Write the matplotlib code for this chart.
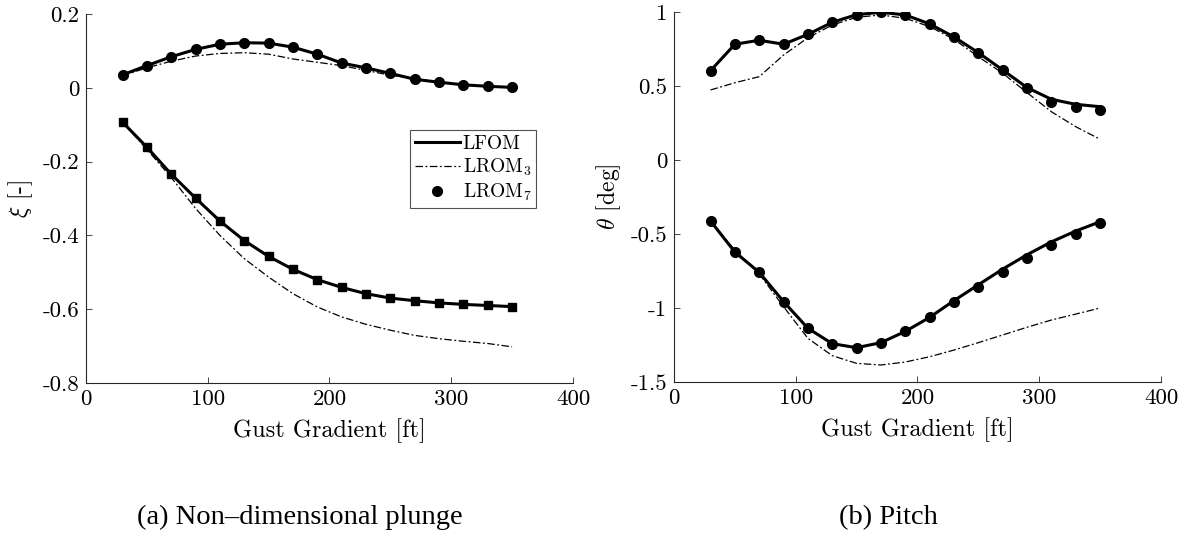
import matplotlib
matplotlib.use("Agg")
import matplotlib.pyplot as plt

plt.rcParams['font.family'] = 'cmr10'
plt.rcParams['mathtext.fontset'] = 'cm'
plt.rcParams['axes.unicode_minus'] = False

# gust gradient lengths [ft]
gust = [30, 50, 70, 90, 110, 130, 150, 170, 190, 210, 230, 250, 270, 290, 310, 330, 350]

# non-dimensional plunge, upper and lower envelopes
xi_up_lfom = [0.035, 0.060, 0.084, 0.104, 0.118, 0.122, 0.121, 0.110, 0.091, 0.067,
              0.054, 0.039, 0.023, 0.015, 0.008, 0.004, 0.001]
xi_up_lrom3 = [0.033, 0.054, 0.072, 0.086, 0.093, 0.095, 0.091, 0.078, 0.069, 0.060,
               0.047, 0.034, 0.025, 0.015, 0.008, 0.004, 0.001]
xi_up_lrom7 = [0.035, 0.060, 0.084, 0.104, 0.118, 0.122, 0.121, 0.110, 0.091, 0.067,
               0.054, 0.039, 0.023, 0.015, 0.008, 0.004, 0.001]
xi_lo_lfom = [-0.093, -0.161, -0.234, -0.299, -0.361, -0.414, -0.457, -0.492, -0.520, -0.541,
              -0.558, -0.570, -0.577, -0.583, -0.587, -0.590, -0.593]
xi_lo_lrom3 = [-0.093, -0.167, -0.243, -0.327, -0.400, -0.463, -0.513, -0.558, -0.594, -0.621,
               -0.641, -0.657, -0.671, -0.680, -0.687, -0.693, -0.702]
xi_lo_lrom7 = [-0.093, -0.161, -0.234, -0.299, -0.361, -0.414, -0.457, -0.492, -0.520, -0.541,
               -0.558, -0.570, -0.577, -0.583, -0.587, -0.590, -0.593]

# pitch [deg], upper and lower envelopes
th_up_lfom = [0.603, 0.782, 0.809, 0.782, 0.849, 0.930, 0.982, 0.998, 0.980, 0.919,
              0.831, 0.725, 0.608, 0.489, 0.410, 0.376, 0.360]
th_up_lrom3 = [0.473, 0.522, 0.563, 0.709, 0.826, 0.912, 0.964, 0.980, 0.957, 0.901,
               0.815, 0.698, 0.586, 0.455, 0.326, 0.225, 0.140]
th_up_lrom7 = [0.603, 0.782, 0.809, 0.782, 0.849, 0.930, 0.982, 0.998, 0.980, 0.919,
               0.831, 0.725, 0.608, 0.489, 0.390, 0.360, 0.338]
th_lo_lfom = [-0.412, -0.622, -0.759, -0.957, -1.137, -1.241, -1.268, -1.234, -1.158, -1.063,
              -0.950, -0.843, -0.737, -0.640, -0.553, -0.480, -0.417]
th_lo_lrom3 = [-0.410, -0.610, -0.770, -0.991, -1.205, -1.322, -1.374, -1.385, -1.365, -1.329,
               -1.284, -1.234, -1.182, -1.130, -1.081, -1.041, -1.000]
th_lo_lrom7 = [-0.412, -0.622, -0.759, -0.957, -1.137, -1.241, -1.268, -1.234, -1.158, -1.063,
               -0.959, -0.856, -0.755, -0.660, -0.572, -0.498, -0.428]

x_ticks = [0, 100, 200, 300, 400]
xi_ticks = [-0.8, -0.6, -0.4, -0.2, 0, 0.2]
xi_ticklabels = ['-0.8', '-0.6', '-0.4', '-0.2', '0', '0.2']
th_ticks = [-1.5, -1, -0.5, 0, 0.5, 1]
th_ticklabels = ['-1.5', '-1', '-0.5', '0', '0.5', '1']

axis_grey = '#262626'
dashdot = (0, (6, 2, 1.5, 2))

fig = plt.figure(figsize=(11.86, 5.37), dpi=100)
ax1 = fig.add_axes([0.0725, 0.2868, 0.4106, 0.6872])
ax2 = fig.add_axes([0.5683, 0.2886, 0.4106, 0.6891])


def style_axes(ax, yticks, yticklabels, ylim, ylabel):
    ax.set_xlim(0, 400)
    ax.set_ylim(*ylim)
    ax.set_xticks(x_ticks)
    ax.set_xticklabels([str(t) for t in x_ticks])
    ax.set_yticks(yticks)
    ax.set_yticklabels(yticklabels)
    for side in ['top', 'right']:
        ax.spines[side].set_visible(False)
    for side in ['left', 'bottom']:
        ax.spines[side].set_color(axis_grey)
        ax.spines[side].set_linewidth(0.8)
    ax.tick_params(direction='in', length=4, width=0.6, colors=axis_grey,
                   labelsize=16.5, labelcolor='black', pad=5)
    ax.set_xlabel('Gust Gradient [ft]', fontsize=17.5, labelpad=6)
    ax.set_ylabel(ylabel, fontsize=17, labelpad=5)


# plunge
ax1.plot(gust, xi_up_lfom, '-', color='black', lw=2.2, label='LFOM')
ax1.plot(gust, xi_up_lrom3, linestyle=dashdot, color='black', lw=0.9, label='LROM$_3$')
ax1.plot(gust, xi_up_lrom7, 'o', color='black', ms=7, label='LROM$_7$')
ax1.plot(gust, xi_lo_lfom, '-', color='black', lw=2.2)
ax1.plot(gust, xi_lo_lrom3, linestyle=dashdot, color='black', lw=0.9)
ax1.plot(gust, xi_lo_lrom7, 's', color='black', ms=5.5)
style_axes(ax1, xi_ticks, xi_ticklabels, (-0.8, 0.2), r'$\xi$ [-]')

leg = ax1.legend(loc='upper right', bbox_to_anchor=(0.925, 0.686), fontsize=14,
                 frameon=True, fancybox=False, borderpad=0.25, handlelength=2.3,
                 handletextpad=0.15, labelspacing=0.2, borderaxespad=0)
leg.get_frame().set_edgecolor(axis_grey)
leg.get_frame().set_linewidth(0.8)

# pitch
ax2.plot(gust, th_up_lfom, '-', color='black', lw=2.2)
ax2.plot(gust, th_up_lrom3, linestyle=dashdot, color='black', lw=0.9)
ax2.plot(gust, th_up_lrom7, 'o', color='black', ms=7)
ax2.plot(gust, th_lo_lfom, '-', color='black', lw=2.2)
ax2.plot(gust, th_lo_lrom3, linestyle=dashdot, color='black', lw=0.9)
ax2.plot(gust, th_lo_lrom7, 'o', color='black', ms=7)
style_axes(ax2, th_ticks, th_ticklabels, (-1.5, 1), r'$\theta$ [deg]')

fig.text(0.253, 0.037, '(a) Non\u2013dimensional plunge', family='Liberation Serif',
         fontsize=20.5, ha='center', va='center')
fig.text(0.749, 0.037, '(b) Pitch', family='Liberation Serif',
         fontsize=20.5, ha='center', va='center')

fig.savefig('out.png', dpi=100)
